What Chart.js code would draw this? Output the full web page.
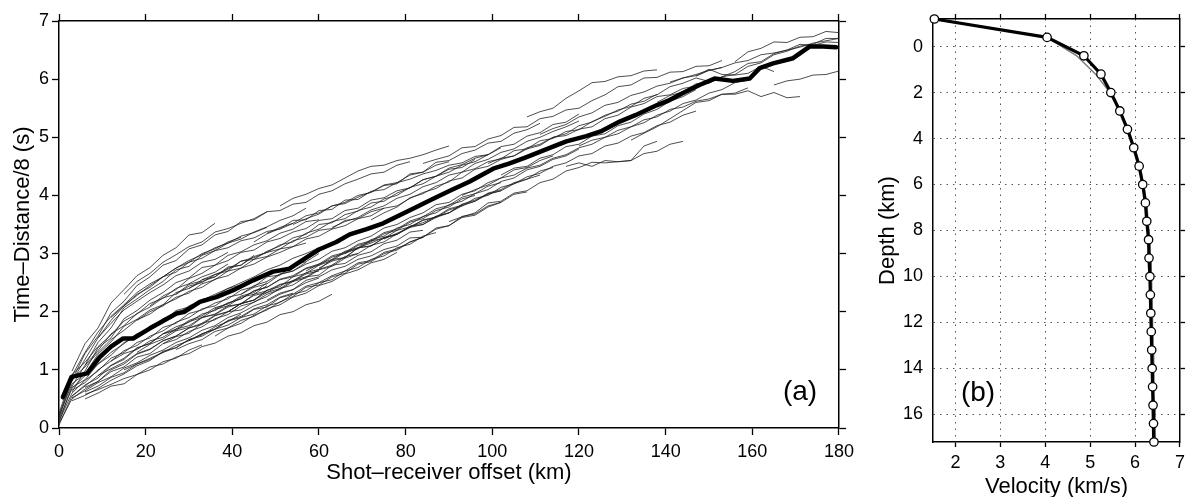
<!DOCTYPE html>
<html><head><meta charset="utf-8">
<script src="https://cdn.jsdelivr.net/npm/chart.js@4.4.1/dist/chart.umd.min.js"></script>
<style>
html,body{margin:0;padding:0;background:#fff;width:1190px;height:497px;overflow:hidden;}
#wa{position:absolute;left:0;top:0;width:860px;height:497px;}
#wb{position:absolute;left:860px;top:0;width:330px;height:497px;}
.tag{position:absolute;font:28px "Liberation Sans",Arial,sans-serif;color:#000;transform:translate(-50%,-50%);white-space:nowrap;line-height:1;}
</style></head><body>
<div id="wa"><canvas id="ca" width="860" height="497"></canvas></div>
<div id="wb"><canvas id="cb" width="330" height="497"></canvas></div>
<div class="tag" style="left:800px;top:391px">(a)</div>
<div class="tag" style="left:978px;top:392px">(b)</div>
<script>
// ---------- Panel (a) data ----------
const offsetTicks = [0,20,40,60,80,100,120,140,160,180];
const timeTicks = [0,1,2,3,4,5,6,7];

const thickOffset = [0.9,2.9,6.5,9.4,12,14.8,17.1,20.9,24,27.1,29,32.5,36.3,40.2,44.8,49.4,53.2,56,60,64,67.1,71,74.8,78.6,82.5,86,90.2,94.8,100.2,104,107.9,114,117.1,121.7,125,129.4,133,137.9,140.9,144,147.8,151.3,155.5,159.4,161.7,164.8,169.4,173.2,176.3,179.4];
const thickTime = [0.53,0.88,0.94,1.22,1.40,1.54,1.54,1.71,1.84,1.97,2.00,2.17,2.25,2.37,2.54,2.69,2.74,2.88,3.07,3.20,3.33,3.42,3.52,3.66,3.80,3.93,4.08,4.24,4.46,4.55,4.66,4.84,4.93,5.02,5.10,5.27,5.38,5.55,5.64,5.76,5.90,6.01,5.97,6.01,6.19,6.27,6.36,6.56,6.56,6.55];

const traceOffsets = [0,3,6,9,12,15,18,21,24,27,30,33,36,39,42,45,48,51,54,57,60,63,66,69,72,75,78,81,84,87,90,93,96,99,102,105,108,111,114,117,120,123,126,129,132,135,138,141,144,147,150,153,156,159,162,165,168,171,174,177,180];

const traceStart = [3,0,0,3,0,3,0,3,0,3,6,3,6,0,3,0,6,9,
  15,21,18,24,30,36,27,42,45,48,54,60,33,39,51,66,
  72,84,90,99,108,117,132,138,156,165,141,102,
  0,3,6,0,9,12,3,15,24,30,57,63,75,18,6,36,81,93,12,48,27,111,120,147];

const traceTimes = [
 [0.98,1.45,1.72,2.15,2.38,2.62,2.76,2.97,3.1,3.32,3.36,3.52],
 [0.18,0.82,1.28,1.58,1.98,2.18,2.45,2.6,2.8,2.88,3.08,3.15,3.32,3.38,3.55,3.58,3.72],
 [0.1,0.72,1.08,1.47,1.72,2.07,2.22,2.38,2.52,2.72,2.78,2.97,3.05,3.18,3.25,3.37,3.46,3.57,3.65,3.78],
 [0.62,0.98,1.38,1.55,1.88,2.02,2.2,2.33,2.5,2.58,2.76,2.8,2.97,3.03,3.15,3.22,3.35,3.42,3.55,3.58],
 [0.2,0.76,0.93,1.27,1.48,1.75,1.87,2.03,2.12,2.33,2.4,2.55,2.6,2.77,2.8,2.97],
 [0.7,0.83,1.1,1.25,1.47,1.57,1.75,1.82,2.02,2.08,2.21,2.27,2.4,2.46],
 [0.12,0.6,0.82,0.98,1.2,1.3,1.47,1.55,1.73,1.8,1.97,2.03,2.15,2.22,2.37,2.43,2.6,2.63,2.8,2.86,3.0],
 [0.55,0.74,0.86,1.07,1.18,1.37,1.46,1.62,1.7,1.85,1.93,2.07,2.13,2.27,2.33,2.5],
 [0.08,0.5,0.67,0.8,1.0,1.1,1.27,1.35,1.5,1.58,1.72,1.8,1.94,2.0,2.14,2.2,2.37],
 [0.47,0.56,0.68,0.82,0.93,1.07,1.16,1.32,1.38,1.52,1.6,1.74,1.83,1.96],
 [0.5,0.6,0.72,0.76,0.92,1.0,1.14,1.2,1.34,1.43],
 [0.8,1.18,1.55,1.8,2.03,2.18,2.33,2.46,2.62,2.7,2.85,2.9,3.02],
 [1.08,1.33,1.62,1.76,1.97,2.08,2.24,2.3,2.47,2.53],
 [0.25,0.92,1.13,1.4,1.6,1.84,1.96,2.14,2.23,2.4,2.48,2.6,2.68,2.82],
 [0.65,0.78,1.0,1.15,1.33,1.42,1.58,1.67,1.82,1.9,2.05,2.1,2.25,2.3,2.45,2.52,2.65,2.7,2.85],
 [0.15,0.68,0.9,1.1,1.3,1.45,1.62,1.7,1.88,1.95,2.1,2.2,2.3,2.4,2.5,2.6,2.72,2.8,2.92,3.0,3.1],
 [0.62,0.72,0.87,0.95,1.1,1.2,1.3,1.42,1.5,1.62,1.7,1.85,1.92,2.05,2.12,2.25,2.32],
 [1.55,1.85,2.1,2.28,2.45,2.6,2.75,2.85,3.0,3.08,3.2,3.28],
 [2.3,2.52,2.66,2.85,2.98,3.12,3.2,3.37,3.43,3.52,3.6,3.72,3.74,3.85,3.88,4.02,4.08,4.2,4.28,4.37,4.4,4.52,4.58],
 [2.1,2.27,2.38,2.57,2.66,2.8,2.88,3.02,3.06,3.2,3.26,3.37,3.43,3.57,3.6,3.74,3.78,3.92,3.96,4.08,4.13,4.27,4.33,4.45,4.48,4.62],
 [1.3,1.44,1.53,1.67,1.73,1.9,1.96,2.1,2.13,2.3,2.36,2.47,2.53,2.67,2.73,2.9,2.93,3.1,3.13,3.27,3.33,3.47,3.53,3.64,3.7,3.84,3.9,4.02,4.08],
 [1.45,1.57,1.63,1.8,1.86,2.0,2.03,2.17,2.26,2.4,2.46,2.6,2.63,2.8,2.83,2.97,3.03,3.17,3.23,3.37,3.4],
 [1.5,1.62,1.7,1.84,1.9,2.04,2.08,2.24,2.3,2.44,2.5,2.62,2.7,2.84,2.88,3.02,3.08,3.2,3.28],
 [1.58,1.72,1.8,1.94,2.03,2.17,2.26,2.42,2.46,2.6,2.66,2.82,2.86,3.0,3.06,3.2,3.28,3.42,3.48,3.62,3.66,3.8,3.88,4.02,4.06],
 [2.3,2.44,2.5,2.64,2.7,2.87,2.9,3.04,3.13,3.27,3.33,3.5,3.53,3.67,3.73,3.87,3.9,4.04,4.13,4.27,4.33,4.47,4.53,4.64,4.7,4.84,4.88,5.02,5.08,5.22,5.26,5.4],
 [2.3,2.42,2.48,2.64,2.7,2.82,2.9,3.04,3.1,3.22,3.3,3.44,3.5,3.62,3.7,3.84,3.88,4.02,4.08,4.22,4.3,4.44,4.48,4.6,4.68],
 [3.2,3.34,3.43,3.57,3.58,3.74,3.76,3.92,3.93,4.07,4.1,4.22,4.28,4.37,4.43,4.52,4.56,4.67,4.7,4.82],
 [2.2,2.32,2.38,2.54,2.6,2.72,2.78,2.9,2.96,3.07,3.13,3.27,3.28,3.44,3.48,3.64,3.68,3.82,3.88],
 [3.5,3.6,3.68,3.82,3.86,3.97,4.06,4.17,4.2,4.37,4.4,4.57,4.6,4.72,4.78,4.9,4.93,5.07,5.13,5.24],
 [2.75,2.87,2.93,3.1,3.13,3.27,3.33,3.47,3.5,3.64,3.7,3.82,3.9,4.04,4.1,4.22,4.28,4.42,4.48],
 [2.55,2.64,2.73,2.87,2.93,3.02,3.08,3.22,3.28,3.4,3.43,3.57,3.6,3.72,3.78],
 [2.0,2.14,2.2,2.37,2.43,2.6,2.66,2.8,2.88,3.02,3.08,3.22,3.26,3.4,3.46,3.57,3.63,3.77,3.83],
 [3.82,3.95,4.02,4.12,4.18,4.3,4.42,4.5,4.52,4.6,4.64,4.7,4.78,4.85],
 [3.0,3.1,3.18,3.28,3.33,3.45,3.5,3.62,3.7,3.85,3.92,4.03,4.08,4.2,4.28,4.35],
 [3.58,3.7,3.8,3.96,4.03,4.16,4.23,4.4,4.46,4.58,4.63,4.77,4.8,4.94,4.98,5.1,5.13,5.27,5.36,5.47,5.53,5.67,5.73,5.87,5.93,6.02,5.96,6.04,6.13,6.27,6.3,6.44,6.5,6.6,6.58,6.64,6.63],
 [4.55,4.62,4.68,4.82,4.84,4.97,5.03,5.17,5.18,5.32,5.36,5.47,5.5,5.63,5.73,5.87,5.9,6.02,6.03,6.12,6.13,6.22,6.23,6.32],
 [3.55,3.63,3.7,3.87,3.9,4.04,4.08,4.22,4.28,4.42,4.48,4.57,4.56,4.58,4.6,4.72,4.76,4.88,4.93],
 [4.55,4.64,4.68,4.82,4.88,5.0,5.03,5.14,5.18,5.32,5.38,5.52,5.58,5.7,5.73,5.84,5.88,5.97],
 [5.35,5.44,5.5,5.67,5.8,5.94,5.96,6.04,6.06,6.14,6.16],
 [4.5,4.56,4.5,4.6,4.58,4.6,4.85,4.93],
 [4.95,5.07,5.18,5.32,5.46,5.6,5.63,5.74,5.74,5.8,5.7,5.77,5.68,5.7],
 [5.6,5.72,5.78,5.92,5.93,6.04,6.08,6.22,6.28,6.42,6.48,6.57,6.6,6.7,6.7],
 [6.3,6.47,6.53,6.64,6.63,6.72,6.73,6.82,6.8],
 [5.9,5.97,6.0,6.07,6.08,6.14],
 [5.95,6.02,6.06,6.17,6.08,6.07,6.1,6.22,6.13],
 [4.35,4.47,4.5,4.64,4.7,4.84,4.88,5.02,5.06,5.2,5.26,5.4,5.48,5.62,5.7,5.82],
 [0.05,0.55,0.72,0.9,1.08,1.2,1.38,1.45,1.62,1.68,1.83,1.9,2.04,2.1,2.25,2.3,2.45],
 [0.52,0.64,0.78,0.88,1.03,1.12,1.25,1.34,1.47,1.55,1.68,1.76,1.9,1.98,2.1,2.18,2.3,2.38,2.5,2.58],
 [0.7,0.8,0.97,1.05,1.22,1.28,1.45,1.52,1.66,1.74,1.88,1.95,2.1,2.16,2.3,2.38,2.52,2.58,2.72,2.78,2.92,3.0],
 [0.22,0.85,1.05,1.3,1.52,1.68,1.86,1.96,2.12,2.22,2.35,2.42,2.56,2.62,2.75,2.82,2.94,3.02,3.12,3.18],
 [0.9,1.02,1.13,1.28,1.36,1.5,1.58,1.72,1.78,1.93,2.0,2.14,2.2,2.33,2.4,2.54,2.6,2.73,2.8,2.95,3.0,3.14,3.2,3.34],
 [1.9,2.1,2.3,2.42,2.6,2.68,2.85,2.92,3.05,3.1,3.22,3.27,3.38,3.42,3.52],
 [0.9,1.3,1.65,1.92,2.12,2.33,2.48,2.6,2.75,2.88,2.98,3.1,3.18,3.3,3.36,3.45],
 [1.0,1.1,1.18,1.3,1.38,1.52,1.58,1.7,1.77,1.9,1.96,2.1,2.16,2.3,2.36,2.5,2.55,2.7,2.76,2.9,2.96,3.1,3.16,3.3,3.36],
 [1.62,1.74,1.82,1.96,2.02,2.15,2.22,2.36,2.42,2.56,2.62,2.75,2.82,2.96,3.02,3.16,3.22,3.36,3.42,3.56,3.63,3.77,3.83,3.97,4.03,4.16,4.22],
 [2.4,2.52,2.6,2.75,2.8,2.95,3.02,3.15,3.2,3.35,3.42,3.55,3.6,3.74,3.8,3.94,4.0,4.14,4.2,4.33,4.4,4.52,4.58,4.7],
 [2.7,2.82,2.9,3.04,3.1,3.24,3.3,3.44,3.5,3.64,3.7,3.84,3.9,4.03,4.1,4.24,4.3,4.44,4.5,4.62,4.68,4.8],
 [3.45,3.55,3.62,3.75,3.82,3.95,4.02,4.15,4.22,4.35,4.4,4.55,4.62,4.74,4.8,4.93,5.0,5.1,5.18,5.28],
 [3.25,3.35,3.45,3.58,3.62,3.75,3.82,3.95,4.0,4.14,4.2,4.32,4.38,4.5,4.56,4.68,4.72,4.85,4.9,5.02,5.08,5.2,5.26,5.38,5.45],
 [1.85,2.0,2.1,2.25,2.32,2.48,2.55,2.7,2.75,2.9,2.95,3.08,3.12,3.25,3.3,3.42,3.48,3.6,3.65,3.78,3.82,3.95],
 [0.58,0.66,0.75,0.85,0.92,1.05,1.1,1.22,1.28,1.4,1.46,1.58,1.64,1.76,1.82,1.95,2.0,2.12,2.18,2.3],
 [2.05,2.15,2.22,2.36,2.42,2.55,2.6,2.74,2.8,2.94,3.0,3.14,3.2,3.34,3.4,3.54,3.6,3.74,3.8,3.94,4.0],
 [3.95,4.05,4.12,4.25,4.3,4.45,4.5,4.62,4.68,4.8,4.86,5.0,5.06,5.2,5.26,5.38,5.45,5.57,5.62,5.74],
 [4.0,4.1,4.18,4.3,4.35,4.47,4.52,4.64,4.7,4.82,4.88,5.0,5.06,5.18,5.25,5.38,5.45,5.58,5.64,5.76,5.82,5.94,5.98],
 [1.15,1.28,1.35,1.5,1.56,1.7,1.76,1.9,1.95,2.08,2.14,2.28,2.33,2.46,2.52,2.65,2.7],
 [3.35,3.45,3.52,3.65,3.7,3.82,3.88,4.0,4.05,4.18,4.22,4.35,4.4,4.52,4.58],
 [1.35,1.45,1.52,1.66,1.72,1.85,1.92,2.05,2.12,2.25,2.32,2.45,2.52,2.65,2.72,2.84,2.9,3.02],
 [5.05,5.15,5.22,5.35,5.42,5.55,5.6,5.72,5.78,5.88,5.93,6.02,6.08,6.15,6.2],
 [4.85,4.95,5.0,5.12,5.18,5.3,5.35,5.48,5.52,5.62,5.66,5.74,5.76,5.85],
 [6.05,6.15,6.2,6.28,6.32,6.42,6.45,6.5,6.55,6.62,6.66,6.7]
];

// ---------- Panel (b) data ----------
const velocityTicks = [2,3,4,5,6,7];
const depthTicks = [0,2,4,6,8,10,12,14,16];
const modelDepth = [-1.2,-0.4,0.4,1.2,2.0,2.8,3.6,4.4,5.2,6.0,6.8,7.6,8.4,9.2,10.0,10.8,11.6,12.4,13.2,14.0,14.8,15.6,16.4,17.2];
const finalVelocity = [1.53,4.04,4.86,5.24,5.46,5.66,5.83,5.97,6.09,6.17,6.23,6.26,6.30,6.31,6.33,6.34,6.35,6.36,6.37,6.38,6.39,6.40,6.41,6.42];
const initialVelocity = [1.53,4.04,4.70,5.12,5.44,5.67,5.85,5.99,6.11,6.19,6.26,6.29,6.33,6.34,6.36,6.37,6.38,6.39,6.40,6.41,6.42,6.43,6.44,6.45];

// ---------- helpers ----------
const FONT = '"Liberation Sans", Arial, Helvetica, sans-serif';
Chart.defaults.font.family = FONT;
Chart.defaults.color = '#000';
Chart.defaults.animation = false;

function fixTicks(list){ return s => { s.ticks = list.map(v => ({value: v})); }; }
function tickAxis(extra){
  return Object.assign({
    type:'linear',
    grid:{display:true, drawOnChartArea:false, drawTicks:true, tickLength:7, tickColor:'#000', tickWidth:1.3},
    border:{display:true, color:'#000', width:1.5},
    ticks:{display:false}
  }, extra);
}

// ---------- Chart (a) ----------
const thinSets = traceTimes.map((arr, k) => {
  const i0 = traceOffsets.indexOf(traceStart[k]);
  return {
    data: arr.map((t, j) => ({x: traceOffsets[i0 + j], y: t})),
    showLine:true, borderColor:'rgba(30,30,30,0.78)', borderWidth:1,
    pointRadius:0, order:1
  };
});
const thickSet = {
  data: thickOffset.map((x, i) => ({x, y: thickTime[i]})),
  showLine:true, borderColor:'#000', borderWidth:4.5, borderJoinStyle:'round', borderCapStyle:'round',
  pointRadius:0, order:0
};

new Chart(document.getElementById('ca'), {
  type:'scatter',
  data:{datasets:[thickSet, ...thinSets]},
  options:{
    responsive:false, devicePixelRatio:1,
    layout:{padding:0},
    plugins:{legend:{display:false}, tooltip:{enabled:false}},
    scales:{
      x: tickAxis({position:'bottom', min:0, max:180,
        afterBuildTicks:fixTicks(offsetTicks), afterFit:s=>{s.height=69;},
        ticks:{display:true, font:{size:18}, color:'#000', padding:6, maxRotation:0, autoSkip:false},
        title:{display:true, text:'Shot–receiver offset (km)', font:{size:22}, color:'#000', padding:{top:0,bottom:11}}}),
      x2: tickAxis({position:'top', min:0, max:180,
        afterBuildTicks:fixTicks(offsetTicks), afterFit:s=>{s.height=21;}}),
      y: tickAxis({position:'left', min:0, max:7,
        afterBuildTicks:fixTicks(timeTicks), afterFit:s=>{s.width=59;},
        ticks:{display:true, font:{size:18}, color:'#000', padding:3, autoSkip:false},
        title:{display:true, text:'Time–Distance/8 (s)', font:{size:22}, color:'#000', padding:{top:10,bottom:0}}}),
      y2: tickAxis({position:'right', min:0, max:7,
        afterBuildTicks:fixTicks(timeTicks), afterFit:s=>{s.width=20;}})
    }
  }
});

// ---------- Chart (b) ----------
new Chart(document.getElementById('cb'), {
  type:'scatter',
  data:{datasets:[
    {data: finalVelocity.map((v,i)=>({x:v, y:modelDepth[i]})), showLine:true, borderColor:'#000', borderWidth:3.2,
     pointRadius:4.2, pointBackgroundColor:'#fff', pointBorderColor:'#000', pointBorderWidth:1.3, clip:false, order:0},
    {data: initialVelocity.map((v,i)=>({x:v, y:modelDepth[i]})), showLine:true, borderColor:'#7a7a7a', borderWidth:1.4,
     pointRadius:0, order:1}
  ]},
  options:{
    responsive:false, devicePixelRatio:1,
    layout:{padding:0},
    plugins:{legend:{display:false}, tooltip:{enabled:false}},
    scales:{
      x: {type:'linear', position:'bottom', min:1.5, max:7,
        afterBuildTicks:fixTicks(velocityTicks), afterFit:s=>{s.height=55;},
        grid:{display:true, drawOnChartArea:true, drawTicks:true, tickLength:5, tickColor:'#000', tickWidth:1.3, color:'#555', lineWidth:1},
        border:{display:true, color:'#000', width:1.5, dash:[1.5,5]},
        ticks:{display:true, font:{size:18}, color:'#000', padding:5, maxRotation:0, autoSkip:false},
        title:{display:true, text:'Velocity (km/s)', font:{size:22, lineHeight:1}, color:'#000', padding:{top:0,bottom:-1}}},
      x2: tickAxis({position:'top', min:1.5, max:7,
        grid:{display:true, drawOnChartArea:false, drawTicks:true, tickLength:5, tickColor:'#000', tickWidth:1.3},
        afterBuildTicks:fixTicks(velocityTicks), afterFit:s=>{s.height=9.5;}}),
      y: {type:'linear', position:'left', min:-1.2, max:17.2, reverse:true,
        afterBuildTicks:fixTicks(depthTicks), afterFit:s=>{s.width=73;},
        grid:{display:true, drawOnChartArea:true, drawTicks:false, color:'#555', lineWidth:1},
        border:{display:true, color:'#000', width:1.5, dash:[1.5,5]},
        ticks:{display:true, font:{size:18, lineHeight:1}, color:'#000', padding:10, autoSkip:false},
        title:{display:true, text:'Depth (km)', font:{size:22}, color:'#000', padding:{top:15,bottom:0}}},
      y2: tickAxis({position:'right', min:-1.2, max:17.2, reverse:true,
        grid:{display:true, drawOnChartArea:false, drawTicks:true, tickLength:5, tickColor:'#000', tickWidth:1.3},
        afterBuildTicks:fixTicks(depthTicks), afterFit:s=>{s.width=6.5;}})
    }
  }
});
</script>
</body></html>
